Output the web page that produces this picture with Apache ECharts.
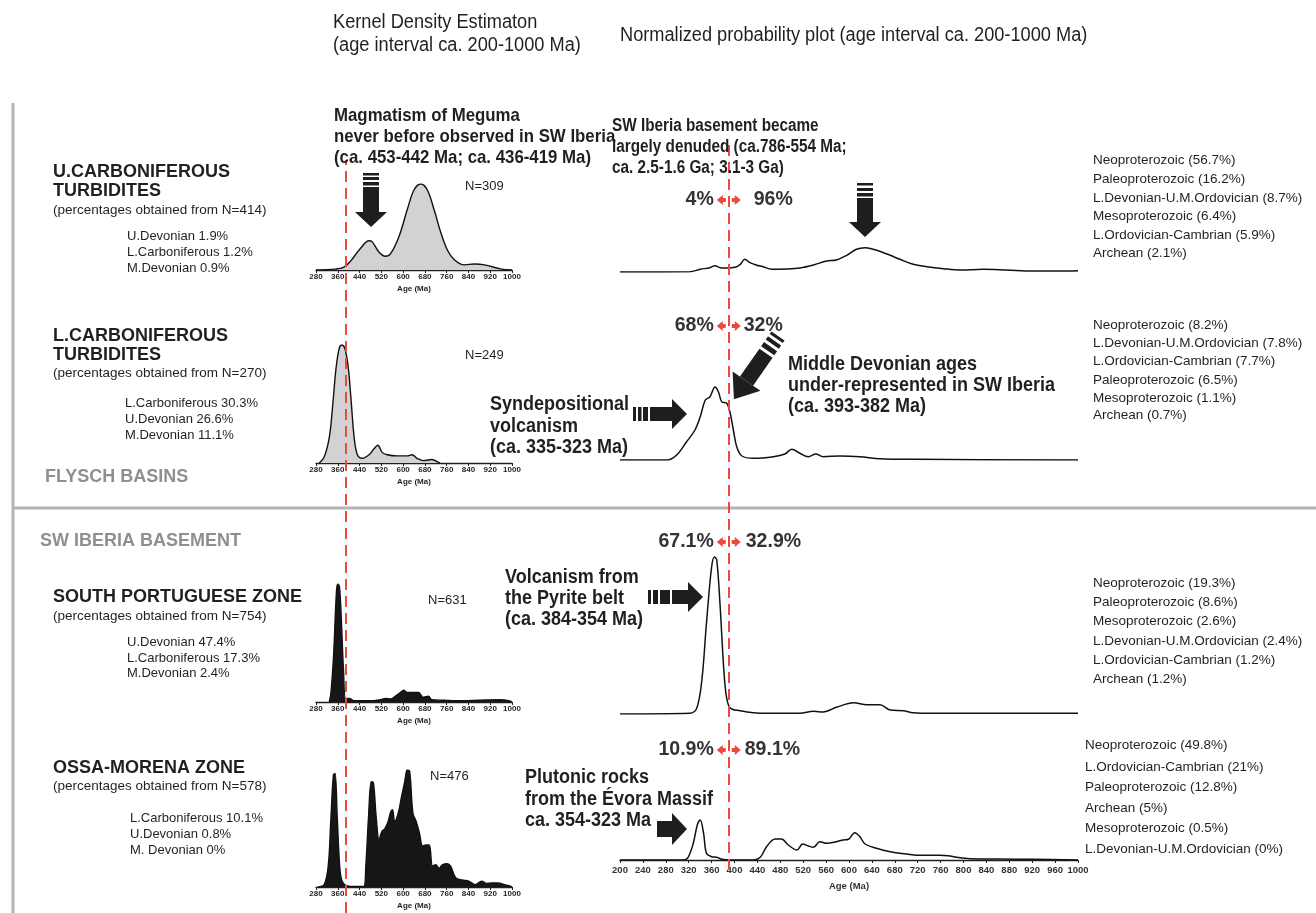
<!DOCTYPE html>
<html><head><meta charset="utf-8">
<script src="https://cdn.jsdelivr.net/npm/echarts@6/dist/echarts.min.js"></script>
<style>html,body{margin:0;padding:0;background:#fff}#c{width:1316px;height:913px}</style>
</head><body><div id="c"></div>
<script>
// ---------------- DATA ----------------
const kdeTicks = [280,360,440,520,600,680,760,840,920,1000];
const ppTicks = [200,240,280,320,360,400,440,480,520,560,600,640,680,720,760,800,840,880,920,960,1000];
const boundaryAge = 390;

// Kernel density estimates (relative density, peak = 100)
const kdeUCarb = [[280,0],[350,1],[381,3],[406,10],[443,25],[474,34],[486,33],[511,21],[535,16],[554,19],[585,39],[615,70],[640,93],[665,100],[689,93],[714,70],[739,43],[763,23],[788,12],[825,6],[862,7],[899,6],[961,1],[1000,0]];
const kdeLCarb = [[292,0],[310,5],[329,22],[341,48],[353,79],[365,97],[375,100],[386,97],[398,82],[408,56],[420,22],[432,7],[450,4],[475,7],[493,12],[507,15],[523,9],[541,7],[578,6],[614,6],[633,7],[651,4],[675,2],[706,3],[730,0.5],[736,0]];
const kdeSPZ = [[329,0],[335,8],[345,41],[353,84],[359,100],[366,98],[373,70],[381,27],[389,3],[402,3],[420,1],[481,1],[517,2],[535,3],[554,2.5],[572,5],[590,8],[602,10],[615,8],[639,8],[657,8],[673,4],[693,5],[705,2],[748,1.5],[821,1],[876,1.5],[955,2],[992,1],[1000,0]];
const kdeOMZ = [[286,0],[310,2],[325,18],[334,55],[344,96],[350,97],[358,60],[367,18],[376,5],[395,1],[419,0.5],[455,0.5],[463,18],[473,60],[483,90],[491,89],[501,60],[512,40],[521,47],[533,50],[545,56],[554,64],[561,66],[569,56],[582,63],[594,77],[606,90],[615,100],[624,99],[636,63],[648,56],[660,46],[672,35],[684,36],[696,36],[708,18],[720,19],[732,16],[744,19],[762,20],[774,18],[793,8],[817,6],[841,5],[865,2],[889,5],[907,3],[925,3.5],[949,3.5],[973,2],[992,1],[1000,0]];

// Normalized probability (common relative units)
const ppUCarb = [[200,0],[322,0.3],[340,2.7],[357,4.3],[366,6.3],[375,4.3],[386,4],[401,4.7],[410,7.7],[418,12.7],[427,9.3],[439,6.7],[450,5.3],[465,2.7],[491,3],[514,4],[538,7],[561,11],[578,12],[596,16.7],[613,22.7],[628,24.3],[642,22.7],[657,20],[672,16.7],[689,12.7],[712,7.7],[736,5.3],[765,3.3],[794,2],[835,2.7],[875,2],[922,1],[968,1],[1000,1.3]];
const ppLCarb = [[200,0],[282,0],[299,5],[316,18],[331,30],[340,43],[349,60],[357,63],[366,73],[372,68],[378,58],[386,57],[392,48],[398,30],[404,13],[413,4],[433,1.7],[468,3.3],[488,6],[500,10.7],[514,6.7],[529,3.3],[542,6],[555,3.3],[584,4],[619,3.3],[654,1.3],[718,0.7],[1000,0]];
const ppSPZ = [[200,0],[322,0.7],[334,5.7],[343,34],[351,90.7],[360,147],[365,157],[369,154],[375,107],[381,47],[386,17],[393,5.7],[410,3.3],[433,1.3],[456,0.7],[514,0.7],[538,2.7],[555,2],[578,6.7],[608,11.3],[631,9.3],[654,9.3],[672,4],[695,3.3],[712,1.3],[747,0.7],[1000,0.7]];
const ppOMZ = [[200,0],[311,0],[319,2.7],[328,16.7],[335,35],[340,40],[346,26.7],[351,6.7],[360,3.3],[369,2.7],[378,0.7],[392,0],[433,0],[445,2.7],[456,13.3],[471,21],[482,21],[494,15],[509,10],[519,16],[529,14],[538,12.7],[549,18.3],[561,16.7],[578,18.3],[590,20],[599,20.7],[610,27.3],[619,23.3],[628,16],[648,11.7],[672,8.3],[701,6],[724,4.7],[759,4.7],[773,4.3],[788,2.7],[811,1.3],[864,1],[922,0.7],[1000,0]];

const sampleNames = [['U.CARBONIFEROUS','TURBIDITES'],['L.CARBONIFEROUS','TURBIDITES'],['SOUTH PORTUGUESE ZONE'],['OSSA-MORENA ZONE']];
const sampleNotes = ['(percentages obtained from N=414)','(percentages obtained from N=270)','(percentages obtained from N=754)','(percentages obtained from N=578)'];
const youngAgeLists = [
  ['U.Devonian 1.9%','L.Carboniferous 1.2%','M.Devonian 0.9%'],
  ['L.Carboniferous 30.3%','U.Devonian 26.6%','M.Devonian 11.1%'],
  ['U.Devonian 47.4%','L.Carboniferous 17.3%','M.Devonian 2.4%'],
  ['L.Carboniferous 10.1%','U.Devonian 0.8%','M. Devonian 0%']
];
const kdeN = ['N=309','N=249','N=631','N=476'];
const splitLeft = ['4%','68%','67.1%','10.9%'];
const splitRight = ['96%','32%','32.9%','89.1%'];
const sourceLists = [
  ['Neoproterozoic (56.7%)','Paleoproterozoic (16.2%)','L.Devonian-U.M.Ordovician (8.7%)','Mesoproterozoic (6.4%)','L.Ordovician-Cambrian (5.9%)','Archean (2.1%)'],
  ['Neoproterozoic (8.2%)','L.Devonian-U.M.Ordovician (7.8%)','L.Ordovician-Cambrian (7.7%)','Paleoproterozoic (6.5%)','Mesoproterozoic (1.1%)','Archean (0.7%)'],
  ['Neoproterozoic (19.3%)','Paleoproterozoic (8.6%)','Mesoproterozoic (2.6%)','L.Devonian-U.M.Ordovician (2.4%)','L.Ordovician-Cambrian (1.2%)','Archean (1.2%)'],
  ['Neoproterozoic (49.8%)','L.Ordovician-Cambrian (21%)','Paleoproterozoic (12.8%)','Archean (5%)','Mesoproterozoic (0.5%)','L.Devonian-U.M.Ordovician (0%)']
];
const headerKDE = ['Kernel Density Estimaton','(age interval ca. 200-1000 Ma)'];
const headerPP = 'Normalized probability plot (age interval ca. 200-1000 Ma)';
const groupLabels = ['FLYSCH BASINS','SW IBERIA BASEMENT'];
const notes = [
  ['Magmatism of Meguma','never before observed in SW Iberia','(ca. 453-442 Ma; ca. 436-419 Ma)'],
  ['SW Iberia basement became','largely denuded (ca.786-554 Ma;','ca. 2.5-1.6 Ga; 3.1-3 Ga)'],
  ['Syndepositional','volcanism','(ca. 335-323 Ma)'],
  ['Middle Devonian ages','under-represented in SW Iberia','(ca. 393-382 Ma)'],
  ['Volcanism from','the Pyrite belt','(ca. 384-354 Ma)'],
  ['Plutonic rocks','from the Évora Massif','ca. 354-323 Ma']
];
const axisName = 'Age (Ma)';

// ---------------- LAYOUT ----------------
const kdeData = [kdeUCarb, kdeLCarb, kdeSPZ, kdeOMZ];
const ppData = [ppUCarb, ppLCarb, ppSPZ, ppOMZ];
const kdeFill = ['#d2d2d2','#d2d2d2','#161616','#161616'];
const kdeGridPos = [{top:184,height:86},{top:345,height:118},{top:584,height:118},{top:770,height:117}];
const ppGridPos = [{top:112,height:160},{top:300,height:160},{top:554,height:160},{top:700,height:160}];
const KL = 316, KW = 196, PL = 620, PW = 458;
const FONT = "'Liberation Sans', Arial, Helvetica, sans-serif";
const INK = '#231f20';
const RED = '#ec4a3c';
const plain = v => String(v);

const grids = [], xAxes = [], yAxes = [], series = [];
kdeGridPos.forEach((g,i)=>{
  grids.push({left:KL, width:KW, top:g.top, height:g.height});
  xAxes.push({gridIndex:grids.length-1, type:'value', min:kdeTicks[0], max:kdeTicks[kdeTicks.length-1], interval:kdeTicks[1]-kdeTicks[0],
    axisLine:{show:true, lineStyle:{color:INK, width:1.3}}, axisTick:{show:true, length:3, lineStyle:{color:INK, width:1}},
    splitLine:{show:false},
    axisLabel:{fontSize:8, fontWeight:'bold', color:INK, fontFamily:FONT, margin:3, formatter:plain},
    name:axisName, nameLocation:'middle', nameGap:15, nameTextStyle:{fontSize:8, fontWeight:'bold', color:INK, fontFamily:FONT}});
  yAxes.push({gridIndex:grids.length-1, type:'value', min:0, max:100, show:false});
  series.push({type:'line', xAxisIndex:xAxes.length-1, yAxisIndex:yAxes.length-1, data:kdeData[i], smooth:0.35, symbol:'none',
    lineStyle:{color:'#111', width:1.4}, areaStyle:{color:kdeFill[i], opacity:1}, silent:true, z:3});
});
grids.push({left:KL, width:KW, top:160, height:753});
xAxes.push({gridIndex:grids.length-1, type:'value', min:kdeTicks[0], max:kdeTicks[kdeTicks.length-1], show:false});
yAxes.push({gridIndex:grids.length-1, type:'value', min:0, max:1, show:false});
series.push({type:'line', xAxisIndex:xAxes.length-1, yAxisIndex:yAxes.length-1, data:[[boundaryAge,0]], symbol:'none', lineStyle:{opacity:0}, silent:true, z:10,
  markLine:{symbol:'none', silent:true, label:{show:false}, lineStyle:{color:RED, type:[11,6], width:2}, data:[{xAxis:boundaryAge}]}});

ppGridPos.forEach((g,i)=>{
  const last = i===ppGridPos.length-1;
  grids.push({left:PL, width:PW, top:g.top, height:g.height});
  xAxes.push({gridIndex:grids.length-1, type:'value', min:ppTicks[0], max:ppTicks[ppTicks.length-1], interval:ppTicks[1]-ppTicks[0],
    show:last,
    axisLine:{show:true, lineStyle:{color:INK, width:1.3}}, axisTick:{show:true, length:3, lineStyle:{color:INK}},
    splitLine:{show:false},
    axisLabel:{fontSize:9.5, fontWeight:'bold', color:'#333', fontFamily:FONT, margin:5, formatter:plain},
    name:axisName, nameLocation:'middle', nameGap:21, nameTextStyle:{fontSize:9.5, fontWeight:'bold', color:'#333', fontFamily:FONT}});
  yAxes.push({gridIndex:grids.length-1, type:'value', min:0, max:g.height, show:false});
  series.push({type:'line', xAxisIndex:xAxes.length-1, yAxisIndex:yAxes.length-1, data:ppData[i], smooth:0.35, symbol:'none',
    lineStyle:{color:'#111', width:1.5}, silent:true, z:3});
});
grids.push({left:PL, width:PW, top:145, height:725});
xAxes.push({gridIndex:grids.length-1, type:'value', min:ppTicks[0], max:ppTicks[ppTicks.length-1], show:false});
yAxes.push({gridIndex:grids.length-1, type:'value', min:0, max:1, show:false});
const ppOverlayAxis = xAxes.length-1;
series.push({type:'line', xAxisIndex:ppOverlayAxis, yAxisIndex:yAxes.length-1, data:[[boundaryAge,0]], symbol:'none', lineStyle:{opacity:0}, silent:true, z:10,
  markLine:{symbol:'none', silent:true, label:{show:false}, lineStyle:{color:RED, type:[11,6], width:2}, data:[{xAxis:boundaryAge}]}});

const chart = echarts.init(document.getElementById('c'));
chart.setOption({animation:false, backgroundColor:'#fff', grid:grids, xAxis:xAxes, yAxis:yAxes, series:series});

// ---------------- ANNOTATIONS ----------------
const G = [];
function txt(x,y,text,size,weight,color,align,sx){
  G.push({type:'text', x:x, y:y, scaleX:sx||1, silent:true, z:20, style:{text:text, fontSize:size, fontWeight:weight||'normal', fontFamily:FONT,
    fill:color||INK, textAlign:align||'left', align:align||'left', textVerticalAlign:'middle', verticalAlign:'middle'}});
}
function lines(x,ys,arr,size,weight,color,sx){ arr.forEach((s,k)=>txt(x,ys[k],s,size,weight,color,'left',sx)); }
function rect(x,y,w,h){ return {type:'rect', shape:{x:x,y:y,width:w,height:h}, style:{fill:'#1e1e1e'}, silent:true, z:20}; }
function poly(pts,fill){ return {type:'polygon', shape:{points:pts}, style:{fill:fill||'#1e1e1e'}, silent:true, z:20}; }

G.push({type:'line', shape:{x1:13,y1:103,x2:13,y2:913}, style:{stroke:'#b4b4b4', lineWidth:3}, silent:true});
G.push({type:'line', shape:{x1:13,y1:508,x2:1316,y2:508}, style:{stroke:'#b4b4b4', lineWidth:3}, silent:true});

lines(333,[22,45],headerKDE,20,'normal',INK,0.91);
txt(620,35,headerPP,20,'normal',INK,'left',0.91);

const nameY = [[172,191],[336,355],[597],[768]];
const noteY = [210,373,616,786];
const listX = [127,125,127,130];
const listY = [[236,252,268],[403,419,435],[642,658,673],[818,834,850]];
const nPos = [[465,186],[465,355],[428,600],[430,776]];
sampleNames.forEach((nm,i)=>{
  lines(53,nameY[i],nm,18,'bold',INK);
  txt(53,noteY[i],sampleNotes[i],13.5,'normal',INK);
  lines(listX[i],listY[i],youngAgeLists[i],13,'normal',INK);
  txt(nPos[i][0],nPos[i][1],kdeN[i],13,'normal',INK);
});
txt(45,477,groupLabels[0],18,'bold','#8f8f8f');
txt(40,541,groupLabels[1],18,'bold','#8f8f8f');

const srcX = [1093,1093,1093,1085];
const srcY = [[160,179,198,216,235,253],[325,343,361,380,398,415],[583,602,621,641,660,679],[745,767,787,808,828,849]];
sourceLists.forEach((l,i)=>lines(srcX[i],srcY[i],l,13.5,'normal',INK));

// [x, line ys, font size, horizontal squeeze]
const noteXY = [[334,[116,137,158],19,0.885],[612,[126,147,168],18,0.85],[490,[404,426,447],20,0.9],[788,[364,385,406],20,0.9],[505,[577,598,619],20,0.9],[525,[777,799,820],20,0.9]];
notes.forEach((n,i)=>lines(noteXY[i][0],noteXY[i][1],n,noteXY[i][2],'bold',INK,noteXY[i][3]));

const bx = chart.convertToPixel({xAxisIndex:ppOverlayAxis}, boundaryAge);
const splitY = [200,326,542,750];
const rightOff = [25,15,17,16];
splitY.forEach((y,i)=>{
  txt(bx-15,y,splitLeft[i],19.5,'bold','#333','right');
  txt(bx+rightOff[i],y,splitRight[i],19.5,'bold','#333','left');
  G.push(poly([[bx-12,y],[bx-6,y-5],[bx-6,y-2],[bx-3,y-2],[bx-3,y+2],[bx-6,y+2],[bx-6,y+5]],RED));
  G.push(poly([[bx+12,y],[bx+6,y-5],[bx+6,y-2],[bx+3,y-2],[bx+3,y+2],[bx+6,y+2],[bx+6,y+5]],RED));
});

G.push(rect(363,173,16,2.5), rect(363,177,16,3), rect(363,182,16,3.5), rect(363,187,16,25), poly([[355,212],[387,212],[371,227]]));
G.push(rect(857,183,16,2.5), rect(857,188,16,3), rect(857,193,16,3.5), rect(857,198,16,24), poly([[849,222],[881,222],[865,237]]));
(function(){const y=414; G.push(rect(633,y-7,3,14), rect(638,y-7,3.5,14), rect(643,y-7,5,14), rect(650,y-7,22,14), poly([[672,y-15],[672,y+15],[687,y]]));})();
(function(){const y=597; G.push(rect(648,y-7,3,14), rect(653,y-7,5,14), rect(660,y-7,10,14), rect(672,y-7,16,14), poly([[688,y-15],[688,y+15],[703,y]]));})();
(function(){const y=829; G.push(rect(657,y-8,16,16), poly([[672,y-16],[672,y+16],[687,y]]));})();
G.push({type:'group', x:778, y:336, rotation:-2.18, silent:true, z:20, children:[
  rect(0,-8,3,16), rect(6,-8,4,16), rect(13,-8,5,16), rect(21,-8,34,16), poly([[55,-17],[55,17],[77,0]])
]});

chart.setOption({graphic:G});
</script></body></html>
